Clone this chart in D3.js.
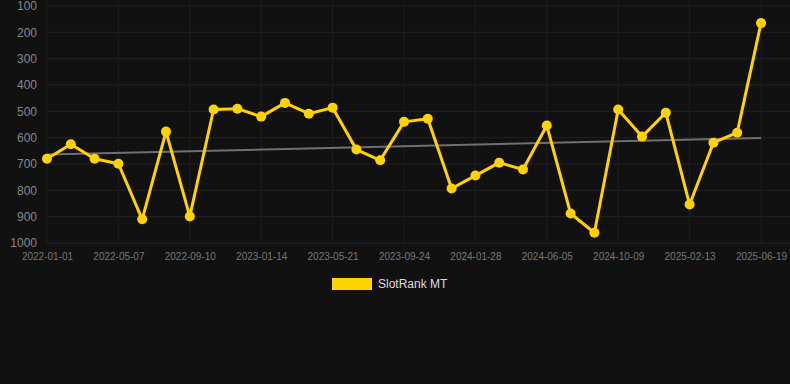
<!DOCTYPE html>
<html>
<head>
<meta charset="utf-8">
<script src="https://cdn.jsdelivr.net/npm/d3@7/dist/d3.min.js"></script>
<style>
html,body{margin:0;padding:0;background:#111111;}
svg{display:block;font-family:"Liberation Sans",Arial,sans-serif;}
</style>
</head>
<body>
<svg id="chart" width="790" height="384"></svg>
<script>
const categories = [
  "2022-01-01","2022-02-12","2022-03-26","2022-05-07","2022-06-18","2022-07-30",
  "2022-09-10","2022-10-22","2022-12-03","2023-01-14","2023-02-25","2023-04-08",
  "2023-05-21","2023-07-02","2023-08-13","2023-09-24","2023-11-05","2023-12-17",
  "2024-01-28","2024-03-10","2024-04-21","2024-06-05","2024-07-17","2024-08-28",
  "2024-10-09","2024-11-20","2025-01-01","2025-02-13","2025-03-27","2025-05-08",
  "2025-06-19"
];
const seriesName = "SlotRank MT";
const values = [680,625,680,699,910,577,899,493,490,520,468,509,486,645,686,540,528,793,744,695,721,554,888,961,493,596,505,854,619,581,165];
const trend = [664, 601];
const xTickLabels = ["2022-01-01","2022-05-07","2022-09-10","2023-01-14","2023-05-21","2023-09-24","2024-01-28","2024-06-05","2024-10-09","2025-02-13","2025-06-19"];
const yTicks = [100,200,300,400,500,600,700,800,900,1000];

(function(){
const svg = d3.select("#chart");
const pLeft = 47, pRight = 761, pTop = 6, pBottom = 243, gridRight = 790;

const x = d3.scalePoint().domain(categories).range([pLeft, pRight]);
const y = d3.scaleLinear().domain([100, 1000]).range([pTop, pBottom]);

// horizontal grid
svg.append("g").selectAll("line").data(yTicks).join("line")
  .attr("x1", pLeft).attr("x2", gridRight)
  .attr("y1", d => y(d)).attr("y2", d => y(d))
  .attr("stroke", "#222222").attr("stroke-width", 1);
// vertical grid
svg.append("g").selectAll("line").data(xTickLabels).join("line")
  .attr("x1", d => x(d)).attr("x2", d => x(d))
  .attr("y1", 0).attr("y2", pBottom)
  .attr("stroke", "#1e1e1e").attr("stroke-width", 1);

// y axis
const yAxis = d3.axisLeft(y).tickValues(yTicks).tickSize(0).tickPadding(10).tickFormat(d3.format("d"));
const gy = svg.append("g").attr("transform", `translate(${pLeft},0)`).call(yAxis);
gy.select(".domain").remove();
gy.selectAll("text").attr("fill", "#888888").attr("font-size", 12).attr("font-family", "Liberation Sans, Arial, sans-serif");

// x axis
const xAxis = d3.axisBottom(x).tickValues(xTickLabels).tickSize(0).tickPadding(10);
const gx = svg.append("g").attr("transform", `translate(0,${pBottom})`).call(xAxis);
gx.select(".domain").remove();
gx.selectAll("text").attr("fill", "#777777").attr("font-size", 10).attr("font-family", "Liberation Sans, Arial, sans-serif");

// trend line
svg.append("line")
  .attr("x1", x(categories[0])).attr("x2", x(categories[categories.length-1]))
  .attr("y1", y(trend[0])).attr("y2", y(trend[1]))
  .attr("stroke", "#707070").attr("stroke-width", 2);

// main line
const line = d3.line().x((d,i) => x(categories[i])).y(d => y(d));
svg.append("path").datum(values)
  .attr("d", line).attr("fill", "none")
  .attr("stroke", "#FFD200").attr("stroke-width", 3).attr("stroke-linejoin", "round");

svg.append("g").selectAll("circle").data(values).join("circle")
  .attr("cx", (d,i) => x(categories[i])).attr("cy", d => y(d))
  .attr("r", 5).attr("fill", "#FFD200");

// legend
const lg = svg.append("g");
lg.append("rect").attr("x", 332).attr("y", 278).attr("width", 40).attr("height", 12).attr("fill", "#FFD200");
lg.append("text").attr("x", 378).attr("y", 284).attr("dy", "0.35em")
  .attr("fill", "#dddddd").attr("font-size", 12).text(seriesName);
})();
</script>
</body>
</html>
